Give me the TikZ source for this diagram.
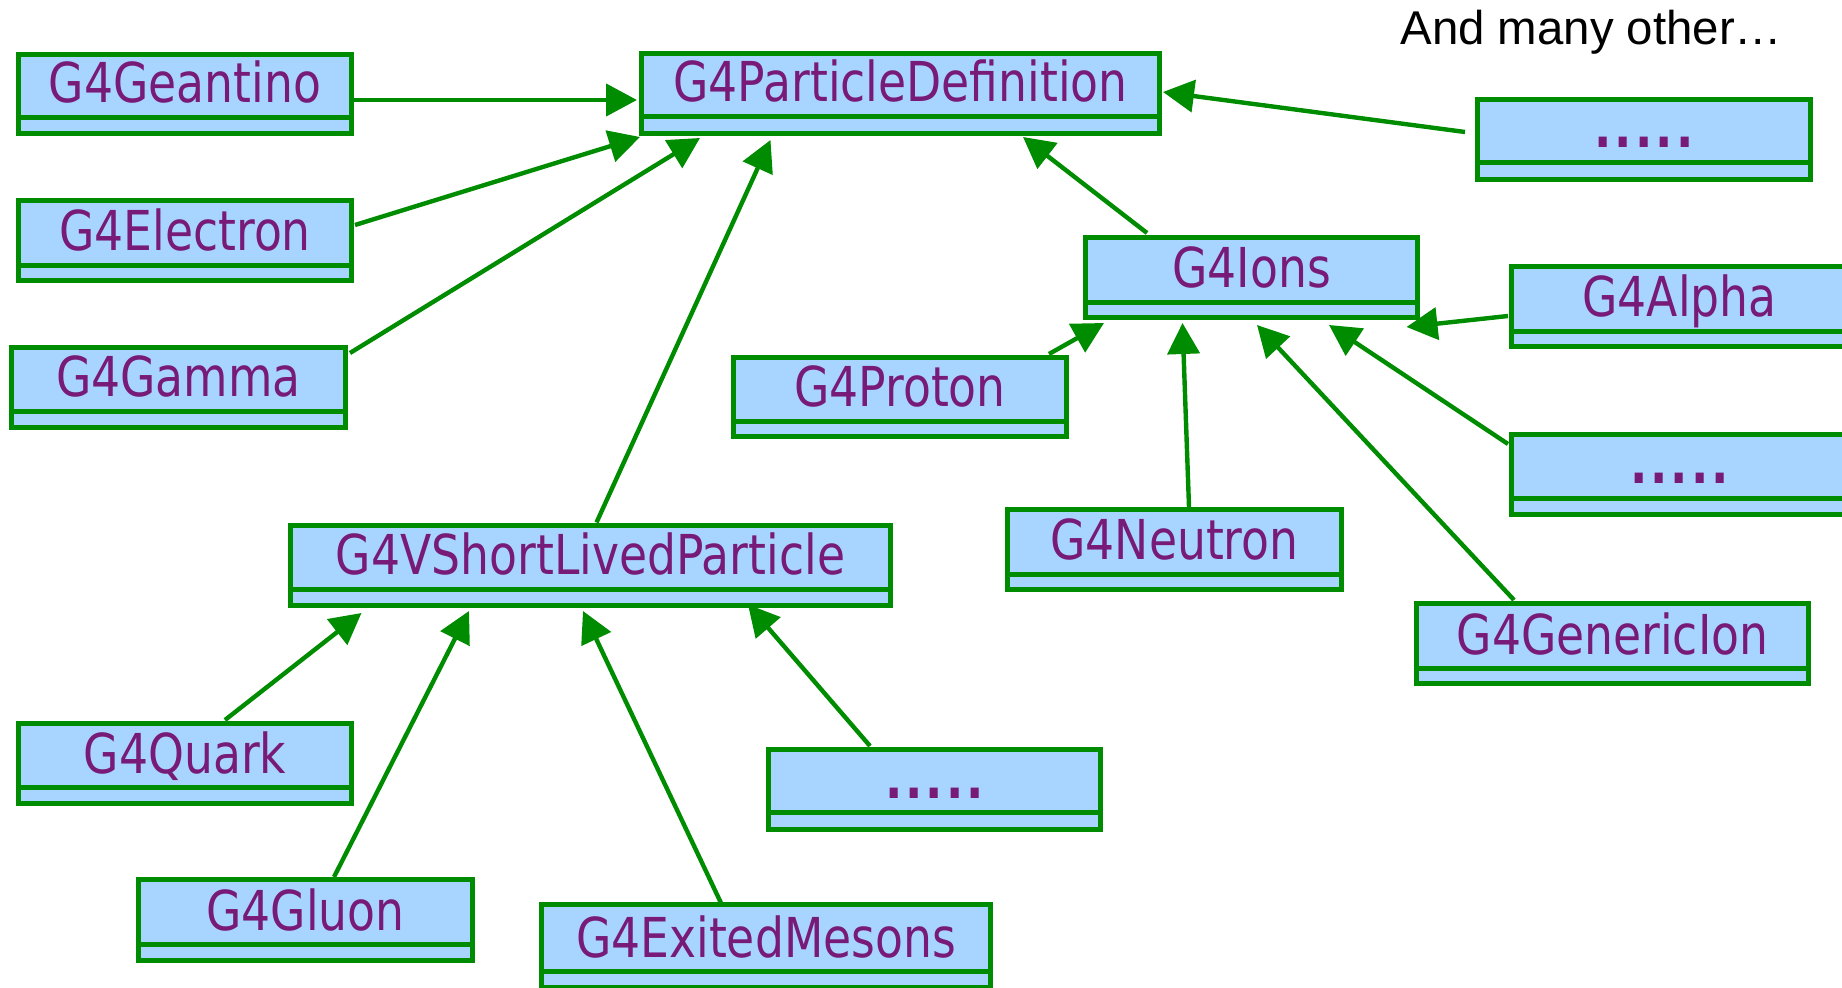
\documentclass[tikz,border=0pt]{standalone}
\usepackage{fontspec}
\usetikzlibrary{arrows.meta,calc}
\newfontfamily\clsfont[FakeStretch=0.83]{DejaVu Sans}
\newfontfamily\notefont{Liberation Sans}
\definecolor{boxgreen}{RGB}{0,140,0}
\definecolor{boxblue}{RGB}{168,213,255}
\definecolor{txtpurple}{RGB}{120,26,120}
\tikzset{
  clsbox/.style={rectangle, draw=boxgreen, fill=boxblue, line width=2.5pt, inner sep=0pt},
  clsline/.style={draw=boxgreen, line width=2.5pt},
  clstext/.style={text=txtpurple, font=\clsfont\fontsize{27.5}{30}\selectfont, inner sep=0pt, anchor=base},
  inh/.style={draw=boxgreen, line width=2.2pt, -{Triangle[length=15.5pt,width=16pt]}}
}
% name, x1, y1, x2, y2, ydiv, text
\newcommand\clsnode[7]{%
  \node[clsbox, minimum width={(#4-#2)*0.5pt-2.5pt}, minimum height={(#5-#3)*0.5pt-2.5pt}] (#1) at ({(#2+#4)/2},{(#3+#5)/2}) {};
  \draw[clsline] ([yshift={(#5-#6)*0.5pt-1.25pt}]#1.south west) -- ([yshift={(#5-#6)*0.5pt-1.25pt}]#1.south east);
  \node[clstext] (#1-t) at ({(#2+#4)/2},{#6-12}) {#7};
}
\newcommand\dotrow{{\bfseries .\kern1.5pt.\kern1.5pt.\kern1.5pt.\kern1.5pt.}}
\begin{document}
\begin{tikzpicture}[x=0.5pt,y=-0.5pt]
\useasboundingbox (0,0) rectangle (1842,988);
\clsnode{geantino}{16}{52}{354}{136}{115}{G4Geantino}
\clsnode{pd}{639}{51}{1162}{136}{114}{G4ParticleDefinition}
\clsnode{dotsA}{1475}{97}{1813}{182}{160}{\dotrow}
\clsnode{electron}{16}{198}{354}{283}{263}{G4Electron}
\clsnode{ions}{1083}{235}{1420}{320}{300}{G4Ions}
\clsnode{alpha}{1509}{264}{1850}{349}{329}{G4Alpha}
\clsnode{gamma}{9}{345}{348}{430}{409}{G4Gamma}
\clsnode{proton}{731}{355}{1069}{439}{419}{G4Proton}
\clsnode{dotsB}{1509}{432}{1850}{517}{496}{\dotrow}
\clsnode{neutron}{1005}{507}{1344}{592}{572}{G4Neutron}
\clsnode{vslp}{288}{523}{893}{608}{587}{G4VShortLivedParticle}
\clsnode{generic}{1414}{601}{1811}{686}{666}{G4GenericIon}
\clsnode{quark}{16}{721}{354}{806}{785}{G4Quark}
\clsnode{dotsC}{766}{747}{1103}{832}{810}{\dotrow}
\clsnode{gluon}{136}{877}{475}{963}{942}{G4Gluon}
\clsnode{exited}{539}{902}{993}{990}{969}{G4ExitedMesons}

\node[anchor=base west, inner sep=0pt, font=\notefont\fontsize{23.7}{26}\selectfont] (note) at (1400,45) {And many other…};

% to G4ParticleDefinition
\draw[inh] ($(geantino)+(169,6)$) -- ($(pd)+(-263.5,6.5)$);
\draw[inh] ($(electron)+(170,-15.5)$) -- ($(pd)+(-260.5,43.5)$);
\draw[inh] ($(gamma)+(171.5,-34.5)$) -- ($(pd)+(-200.5,44.5)$);
\draw[inh] ($(vslp)+(6,-43)$) -- ($(pd)+(-130,46.5)$);
\draw[inh] ($(ions)+(-104.5,-44.5)$) -- ($(pd)+(122.5,43.5)$);
\draw[inh] ($(dotsA)+(-179,-7.5)$) -- ($(pd)+(262.5,-1.5)$);
% to G4Ions
\draw[inh] ($(proton)+(149,-43)$) -- ($(ions)+(-147.5,45.5)$);
\draw[inh] ($(neutron)+(14.5,-42.5)$) -- ($(ions)+(-69,45.5)$);
\draw[inh] ($(generic)+(-98.5,-43.5)$) -- ($(ions)+(5.5,47.5)$);
\draw[inh] ($(dotsB)+(-171.5,-30.5)$) -- ($(ions)+(77.5,47.5)$);
\draw[inh] ($(alpha)+(-171.5,9.5)$) -- ($(ions)+(155,49.5)$);
% to G4VShortLivedParticle
\draw[inh] ($(quark)+(40,-43.5)$) -- ($(vslp)+(-229,47.5)$);
\draw[inh] ($(gluon)+(28.5,-43)$) -- ($(vslp)+(-121.5,45.5)$);
\draw[inh] ($(exited)+(-45,-43)$) -- ($(vslp)+(-7.5,45.5)$);
\draw[inh] ($(dotsC)+(-64.5,-43.5)$) -- ($(vslp)+(157.5,39)$);
\end{tikzpicture}
\end{document}
